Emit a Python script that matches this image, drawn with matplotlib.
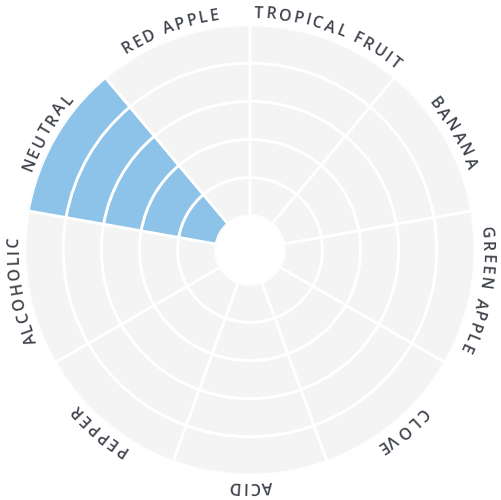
import numpy as np
import matplotlib
matplotlib.use("Agg")
import matplotlib.pyplot as plt
from matplotlib.font_manager import FontProperties

# data
categories = ["TROPICAL FRUIT", "BANANA", "GREEN APPLE", "CLOVE", "ACID",
              "PEPPER", "ALCOHOLIC", "NEUTRAL", "RED APPLE"]
values = [0, 0, 0, 0, 0, 0, 0, 5, 0]
levels = 5

blue = "#8ec3e9"
grey = "#f4f4f4"
text_color = "#3d4149"

fig = plt.figure(figsize=(5.01, 5.0), dpi=100)
# axes circle: center (250,250) px, radius 225 px
ax = fig.add_axes([25 / 501, 25 / 500, 450 / 501, 450 / 500], projection="polar")
ax.set_theta_zero_location("N")
ax.set_theta_direction(-1)

n = len(categories)
width = 2 * np.pi / n
for i, v in enumerate(values):
    for j in range(levels):
        ax.bar(i * width, 1, width=width, bottom=j, align="edge",
               color=blue if j < v else grey, edgecolor="white", linewidth=2)

ax.set_ylim(0, levels)
ax.set_rorigin(-0.9)
ax.set_axis_off()

# curved labels, letter by letter
fp = FontProperties(family=["Open Sans", "DejaVu Sans"], size=11.5, weight=600)
renderer = fig.canvas.get_renderer()
r_px = 232.0          # baseline radius in pixels
tracking = 2.2        # extra px between letters
space_w = 4.5


def char_w(ch):
    if ch == " ":
        return space_w
    w, h, d = renderer.get_text_width_height_descent(ch, fp, ismath=False)
    return w


to_data = lambda px: px / 225 * (levels + 0.9) - 0.9
for i, label in enumerate(categories):
    mid = (i + 0.5) * width
    ws = [char_w(c) for c in label]
    total = sum(ws) + tracking * (len(label) - 1)
    s = -total / 2
    for c, w in zip(label, ws):
        phi = mid + (s + w / 2) / r_px
        s += w + tracking
        if c == " ":
            continue
        ax.text(phi, to_data(r_px), c, fontproperties=fp, color=text_color,
                rotation=-np.degrees(phi), rotation_mode="anchor",
                ha="center", va="baseline")

fig.savefig("out.png", dpi=100)
